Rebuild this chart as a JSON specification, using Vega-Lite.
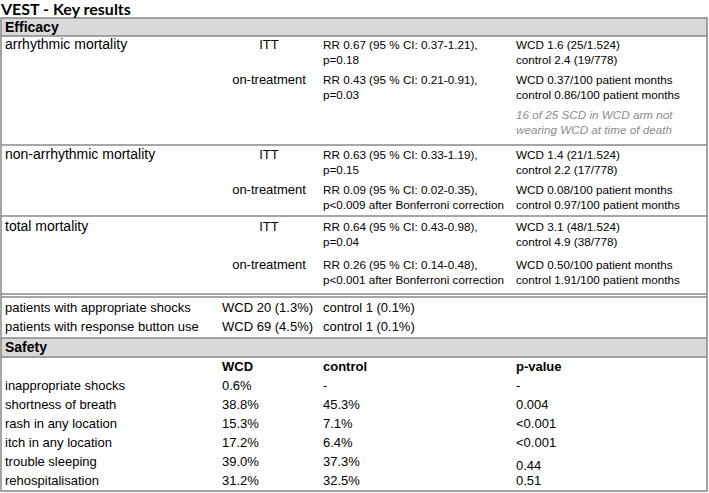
{
  "$schema": "https://vega.github.io/schema/vega-lite/v6.json",
  "width": 709,
  "height": 493,
  "autosize": {"type": "none"},
  "padding": 0,
  "background": "white",
  "config": {"view": {"stroke": null}, "text": {"font": "Liberation Sans"}},
  "datasets": {
    "frame": [{"col": 0, "col2": 6, "slot": 1, "slot2": 27}],
    "bands": [
      {"col": 0, "col2": 6, "slot": 1, "slot2": 3},
      {"col": 0, "col2": 6, "slot": 17, "slot2": 19}
    ],
    "rules": [
      {"col": 0, "col2": 6, "slot": 3},
      {"col": 0, "col2": 6, "slot": 7},
      {"col": 0, "col2": 6, "slot": 10},
      {"col": 0, "col2": 6, "slot": 13},
      {"col": 0, "col2": 6, "slot": 14},
      {"col": 0, "col2": 6, "slot": 17},
      {"col": 0, "col2": 6, "slot": 19}
    ],
    "cells": [
      {"slot": 0, "col": 0, "role": "title", "text": "VEST - Key results"},
      {"slot": 2, "col": 1, "role": "section", "text": "Efficacy"},
      {"slot": 4, "col": 1, "role": "label", "text": "arrhythmic mortality"},
      {"slot": 4, "col": 3, "role": "arm", "text": "ITT"},
      {"slot": 4, "col": 4, "role": "result", "text": "RR 0.67 (95 % CI: 0.37-1.21),\np=0.18"},
      {"slot": 4, "col": 5, "role": "result", "text": "WCD 1.6 (25/1.524)\ncontrol 2.4 (19/778)"},
      {"slot": 5, "col": 3, "role": "arm", "text": "on-treatment"},
      {"slot": 5, "col": 4, "role": "result", "text": "RR 0.43 (95 % CI: 0.21-0.91),\np=0.03"},
      {"slot": 5, "col": 5, "role": "result", "text": "WCD 0.37/100 patient months\ncontrol 0.86/100 patient months"},
      {"slot": 6, "col": 5, "role": "note", "text": "16 of 25 SCD in WCD arm not\nwearing WCD at time of death"},
      {"slot": 8, "col": 1, "role": "label", "text": "non-arrhythmic mortality"},
      {"slot": 8, "col": 3, "role": "arm", "text": "ITT"},
      {"slot": 8, "col": 4, "role": "result", "text": "RR 0.63 (95 % CI: 0.33-1.19),\np=0.15"},
      {"slot": 8, "col": 5, "role": "result", "text": "WCD 1.4 (21/1.524)\ncontrol 2.2 (17/778)"},
      {"slot": 9, "col": 3, "role": "arm", "text": "on-treatment"},
      {"slot": 9, "col": 4, "role": "result", "text": "RR 0.09 (95 % CI: 0.02-0.35),\np<0.009 after Bonferroni correction"},
      {"slot": 9, "col": 5, "role": "result", "text": "WCD 0.08/100 patient months\ncontrol 0.97/100 patient months"},
      {"slot": 11, "col": 1, "role": "label", "text": "total mortality"},
      {"slot": 11, "col": 3, "role": "arm", "text": "ITT"},
      {"slot": 11, "col": 4, "role": "result", "text": "RR 0.64 (95 % CI: 0.43-0.98),\np=0.04"},
      {"slot": 11, "col": 5, "role": "result", "text": "WCD 3.1 (48/1.524)\ncontrol 4.9 (38/778)"},
      {"slot": 12, "col": 3, "role": "arm", "text": "on-treatment"},
      {"slot": 12, "col": 4, "role": "result", "text": "RR 0.26 (95 % CI: 0.14-0.48),\np<0.001 after Bonferroni correction"},
      {"slot": 12, "col": 5, "role": "result", "text": "WCD 0.50/100 patient months\ncontrol 1.91/100 patient months"},
      {"slot": 15, "col": 1, "role": "cell", "text": "patients with appropriate shocks"},
      {"slot": 15, "col": 2, "role": "cell", "text": "WCD 20 (1.3%)"},
      {"slot": 15, "col": 4, "role": "cell", "text": "control 1 (0.1%)"},
      {"slot": 16, "col": 1, "role": "cell", "text": "patients with response button use"},
      {"slot": 16, "col": 2, "role": "cell", "text": "WCD 69 (4.5%)"},
      {"slot": 16, "col": 4, "role": "cell", "text": "control 1 (0.1%)"},
      {"slot": 18, "col": 1, "role": "section", "text": "Safety"},
      {"slot": 20, "col": 2, "role": "colhead", "text": "WCD"},
      {"slot": 20, "col": 4, "role": "colhead", "text": "control"},
      {"slot": 20, "col": 5, "role": "colhead", "text": "p-value"},
      {"slot": 21, "col": 1, "role": "cell", "text": "inappropriate shocks"},
      {"slot": 21, "col": 2, "role": "cell", "text": "0.6%"},
      {"slot": 21, "col": 4, "role": "cell", "text": "-"},
      {"slot": 21, "col": 5, "role": "cell", "text": "-"},
      {"slot": 22, "col": 1, "role": "cell", "text": "shortness of breath"},
      {"slot": 22, "col": 2, "role": "cell", "text": "38.8%"},
      {"slot": 22, "col": 4, "role": "cell", "text": "45.3%"},
      {"slot": 22, "col": 5, "role": "cell", "text": "0.004"},
      {"slot": 23, "col": 1, "role": "cell", "text": "rash in any location"},
      {"slot": 23, "col": 2, "role": "cell", "text": "15.3%"},
      {"slot": 23, "col": 4, "role": "cell", "text": "7.1%"},
      {"slot": 23, "col": 5, "role": "cell", "text": "<0.001"},
      {"slot": 24, "col": 1, "role": "cell", "text": "itch in any location"},
      {"slot": 24, "col": 2, "role": "cell", "text": "17.2%"},
      {"slot": 24, "col": 4, "role": "cell", "text": "6.4%"},
      {"slot": 24, "col": 5, "role": "cell", "text": "<0.001"},
      {"slot": 25, "col": 1, "role": "cell", "text": "trouble sleeping"},
      {"slot": 25, "col": 2, "role": "cell", "text": "39.0%"},
      {"slot": 25, "col": 4, "role": "cell", "text": "37.3%"},
      {"slot": 25.2, "col": 5, "role": "cell", "text": "0.44"},
      {"slot": 26, "col": 1, "role": "cell", "text": "rehospitalisation"},
      {"slot": 26, "col": 2, "role": "cell", "text": "31.2%"},
      {"slot": 26, "col": 4, "role": "cell", "text": "32.5%"},
      {"slot": 26, "col": 5, "role": "cell", "text": "0.51"}
    ]
  },
  "layer": [
    {
      "data": {"name": "bands"},
      "mark": {"type": "rect", "color": "#d9d9d9"},
      "encoding": {
        "x": {"field": "col", "type": "quantitative", "axis": null, "scale": {"domain": [0, 1, 2, 3, 4, 5, 6], "range": [1, 5, 222, 269, 323, 516, 707], "zero": false, "nice": false}},
        "x2": {"field": "col2"},
        "y": {"field": "slot", "type": "quantitative", "axis": null, "scale": {"domain": [0, 1, 2, 3, 4, 5, 6, 7, 8, 9, 10, 11, 12, 13, 14, 15, 16, 17, 18, 19, 20, 21, 22, 23, 24, 25, 26, 27], "range": [15, 18, 32, 36, 49, 84, 119, 145, 159, 194, 216, 231, 269, 294, 297, 312, 331, 338, 352, 357, 371, 390, 409, 428, 447, 466, 485, 491], "zero": false, "nice": false}},
        "y2": {"field": "slot2"}
      }
    },
    {
      "data": {"name": "rules"},
      "mark": {"type": "rule", "color": "#888888", "strokeWidth": 1.3},
      "encoding": {
        "x": {"field": "col", "type": "quantitative", "axis": null},
        "x2": {"field": "col2"},
        "y": {"field": "slot", "type": "quantitative", "axis": null}
      }
    },
    {
      "data": {"name": "frame"},
      "mark": {"type": "rect", "fill": null, "fillOpacity": 0, "stroke": "#888888", "strokeWidth": 1.5},
      "encoding": {
        "x": {"field": "col", "type": "quantitative", "axis": null},
        "x2": {"field": "col2"},
        "y": {"field": "slot", "type": "quantitative", "axis": null},
        "y2": {"field": "slot2"}
      }
    },
    {
      "data": {"name": "cells"},
      "transform": [{"filter": "datum.role == 'title'"}],
      "mark": {"type": "text", "align": "left", "baseline": "alphabetic", "font": "Lato", "fontWeight": "bold", "fontSize": 16, "color": "black"},
      "encoding": {
        "x": {"field": "col", "type": "quantitative", "axis": null},
        "y": {"field": "slot", "type": "quantitative", "axis": null},
        "text": {"field": "text"}
      }
    },
    {
      "data": {"name": "cells"},
      "transform": [{"filter": "datum.role == 'section'"}],
      "mark": {"type": "text", "align": "left", "baseline": "alphabetic", "fontWeight": "bold", "fontSize": 14, "color": "black"},
      "encoding": {
        "x": {"field": "col", "type": "quantitative", "axis": null},
        "y": {"field": "slot", "type": "quantitative", "axis": null},
        "text": {"field": "text"}
      }
    },
    {
      "data": {"name": "cells"},
      "transform": [{"filter": "datum.role == 'label'"}],
      "mark": {"type": "text", "align": "left", "baseline": "alphabetic", "fontSize": 14, "color": "black"},
      "encoding": {
        "x": {"field": "col", "type": "quantitative", "axis": null},
        "y": {"field": "slot", "type": "quantitative", "axis": null},
        "text": {"field": "text"}
      }
    },
    {
      "data": {"name": "cells"},
      "transform": [{"filter": "datum.role == 'arm'"}],
      "mark": {"type": "text", "align": "center", "baseline": "alphabetic", "fontSize": 13, "color": "black"},
      "encoding": {
        "x": {"field": "col", "type": "quantitative", "axis": null},
        "y": {"field": "slot", "type": "quantitative", "axis": null},
        "text": {"field": "text"}
      }
    },
    {
      "data": {"name": "cells"},
      "transform": [{"filter": "datum.role == 'result'"}],
      "mark": {"type": "text", "align": "left", "baseline": "alphabetic", "fontSize": 11.7, "lineHeight": 15, "lineBreak": "\n", "color": "black"},
      "encoding": {
        "x": {"field": "col", "type": "quantitative", "axis": null},
        "y": {"field": "slot", "type": "quantitative", "axis": null},
        "text": {"field": "text"}
      }
    },
    {
      "data": {"name": "cells"},
      "transform": [{"filter": "datum.role == 'note'"}],
      "mark": {"type": "text", "align": "left", "baseline": "alphabetic", "fontSize": 11.7, "lineHeight": 15, "lineBreak": "\n", "fontStyle": "italic", "color": "#8c8c8c"},
      "encoding": {
        "x": {"field": "col", "type": "quantitative", "axis": null},
        "y": {"field": "slot", "type": "quantitative", "axis": null},
        "text": {"field": "text"}
      }
    },
    {
      "data": {"name": "cells"},
      "transform": [{"filter": "datum.role == 'cell'"}],
      "mark": {"type": "text", "align": "left", "baseline": "alphabetic", "fontSize": 13, "color": "black"},
      "encoding": {
        "x": {"field": "col", "type": "quantitative", "axis": null},
        "y": {"field": "slot", "type": "quantitative", "axis": null},
        "text": {"field": "text"}
      }
    },
    {
      "data": {"name": "cells"},
      "transform": [{"filter": "datum.role == 'colhead'"}],
      "mark": {"type": "text", "align": "left", "baseline": "alphabetic", "fontSize": 13, "fontWeight": "bold", "color": "black"},
      "encoding": {
        "x": {"field": "col", "type": "quantitative", "axis": null},
        "y": {"field": "slot", "type": "quantitative", "axis": null},
        "text": {"field": "text"}
      }
    }
  ]
}
